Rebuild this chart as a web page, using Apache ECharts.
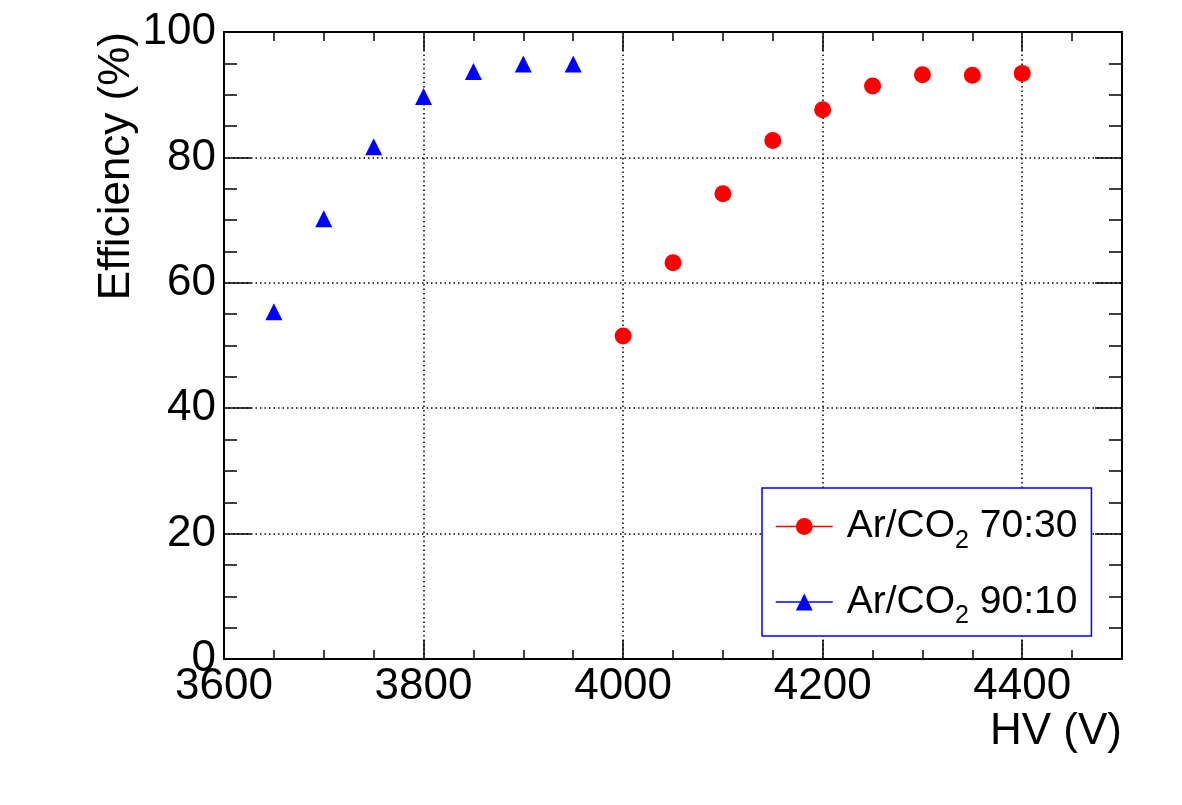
<!DOCTYPE html>
<html>
<head>
<meta charset="utf-8">
<script src="https://cdn.jsdelivr.net/npm/echarts@6/dist/echarts.min.js"></script>
<style>
  html, body { margin: 0; padding: 0; background: #fff; }
  #effChart { width: 1182px; height: 805px; }
</style>
</head>
<body>
<div id="effChart"></div>
<script>
  // HV scan, efficiency in %
  const hv7030 = [4000, 4050, 4100, 4150, 4200, 4250, 4300, 4350, 4400];
  const eff7030 = [51.5, 63.2, 74.2, 82.7, 87.6, 91.4, 93.2, 93.1, 93.4];
  const hv9010 = [3650, 3700, 3750, 3800, 3850, 3900, 3950];
  const eff9010 = [55.4, 70.2, 81.7, 89.7, 93.7, 94.9, 94.9];
  const seriesNames = ['Ar/CO2 70:30', 'Ar/CO2 90:10'];
  const ratios = ['70:30', '90:10'];

  const font = 'Liberation Sans, Arial, Helvetica, sans-serif';
  const dotted = {color: '#000', width: 1.5, type: [1.5, 3]};

  function pairs(xs, ys) {
    return xs.map((x, i) => [x, ys[i]]);
  }

  // one axis for the labelled (major) ticks, one more for the small ones
  function xAxisOf(position, interval, tickLen, isMain) {
    return {
      type: 'value', position: position, min: 3600, max: 4500, interval: interval,
      axisLine: {show: isMain, onZero: false, lineStyle: {color: '#000', width: 2}},
      axisTick: {show: true, inside: true, length: tickLen, lineStyle: {color: '#000', width: 1.5}},
      axisLabel: {
        show: isMain && position === 'bottom', showMaxLabel: false, margin: 6,
        color: '#000', fontSize: 44, fontFamily: font,
        formatter: v => String(v)
      },
      splitLine: {show: isMain && position === 'bottom', lineStyle: dotted}
    };
  }

  function yAxisOf(position, interval, tickLen, isMain) {
    return {
      type: 'value', position: position, min: 0, max: 100, interval: interval,
      axisLine: {show: isMain, onZero: false, lineStyle: {color: '#000', width: 2}},
      axisTick: {show: true, inside: true, length: tickLen, lineStyle: {color: '#000', width: 1.5}},
      axisLabel: {
        show: isMain && position === 'left', margin: 8,
        color: '#000', fontSize: 44, fontFamily: font
      },
      splitLine: {show: isMain && position === 'left', lineStyle: dotted}
    };
  }

  const chart = echarts.init(document.getElementById('effChart'), null, {renderer: 'canvas'});

  const option = {
    animation: false,
    backgroundColor: '#fff',
    grid: {left: 224, right: 60, top: 32, bottom: 146},
    xAxis: [
      xAxisOf('bottom', 200, 19, true),
      xAxisOf('bottom', 50, 9, false),
      xAxisOf('top', 200, 19, true),
      xAxisOf('top', 50, 9, false)
    ],
    yAxis: [
      yAxisOf('left', 20, 27, true),
      yAxisOf('left', 5, 13, false),
      yAxisOf('right', 20, 27, true),
      yAxisOf('right', 5, 13, false)
    ],
    legend: {
      orient: 'vertical',
      left: 762, top: 488,
      padding: [19, 14, 7, 13],
      itemWidth: 57, itemHeight: 21, itemGap: 29,
      borderColor: '#0000ff', borderWidth: 1.5,
      backgroundColor: '#fff',
      lineStyle: {width: 1.5, opacity: 1},
      data: seriesNames,
      formatter: function (name) {
        const r = ratios[seriesNames.indexOf(name)];
        return '{m|Ar/CO}{s|2}{n| ' + r + '}';
      },
      textStyle: {
        color: '#000', fontFamily: font,
        rich: {
          m: {fontSize: 39, lineHeight: 54, fontFamily: font, color: '#000', padding: [0, 0, 0, 9]},
          s: {fontSize: 25, lineHeight: 20, verticalAlign: 'bottom', fontFamily: font, color: '#000'},
          n: {fontSize: 39, lineHeight: 54, fontFamily: font, color: '#000'}
        }
      }
    },
    series: [
      {
        name: seriesNames[0], type: 'line', xAxisIndex: 0, yAxisIndex: 0,
        data: pairs(hv7030, eff7030),
        symbol: 'circle', symbolSize: 17, showSymbol: true,
        lineStyle: {width: 0, color: '#ff0000'},
        itemStyle: {color: '#ff0000'},
        z: 3
      },
      {
        name: seriesNames[1], type: 'line', xAxisIndex: 0, yAxisIndex: 0,
        data: pairs(hv9010, eff9010),
        symbol: 'triangle', symbolSize: 17, showSymbol: true,
        lineStyle: {width: 0, color: '#0000ff'},
        itemStyle: {color: '#0000ff'},
        z: 3
      }
    ],
    graphic: [
      {
        type: 'text', x: 1122, y: 732,
        style: {text: 'HV (V)', fill: '#000', font: '44px ' + font, align: 'right', verticalAlign: 'middle'}
      },
      {
        type: 'text', x: 117, y: 32, rotation: Math.PI / 2,
        style: {text: 'Efficiency (%)', fill: '#000', font: '44px ' + font, align: 'right', verticalAlign: 'middle'}
      }
    ]
  };

  chart.setOption(option);
</script>
</body>
</html>
